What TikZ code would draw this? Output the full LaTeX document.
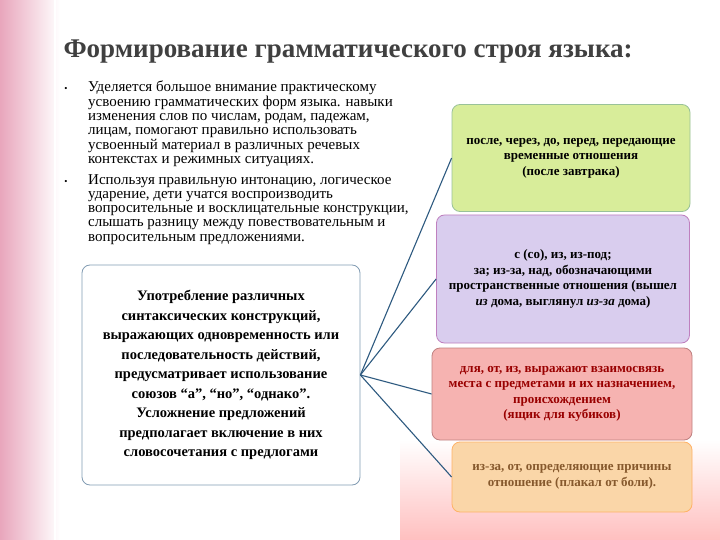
\documentclass[tikz,border=0pt]{standalone}
\usepackage{fontspec}
\setmainfont{Liberation Serif}
\usetikzlibrary{positioning}
\definecolor{conn}{HTML}{2E5A80}
\definecolor{grn}{HTML}{D8ED9A}
\definecolor{lav}{HTML}{D9CDEE}
\definecolor{pnk}{HTML}{F6B3B1}
\definecolor{org}{HTML}{FAD6A8}
\tikzset{
  rbox/.style={rounded corners=8pt, line width=0.8pt, align=center, font=\bfseries\fontsize{13}{15.5}\selectfont, inner sep=4pt},
  link/.style={draw=conn, line width=1.1pt},
  body/.style={font=\fontsize{15}{14.3}\selectfont, align=left, anchor=north west, inner sep=0pt}
}
\begin{document}
\begin{tikzpicture}[x=1pt,y=-1pt]
\useasboundingbox (0,0) rectangle (720,540);
\fill[white] (0,0) rectangle (720,540);
\shade[left color=purple!35!white, right color=white] (0,0) rectangle (60,540);
\shade[top color=white, bottom color=red!25!white] (400,440) rectangle (720,540);
\draw[white, line width=2pt] (55,0) -- (55,540);
\node[anchor=west, font=\bfseries\fontsize{27}{30}\selectfont, text=black!75] (title) at (60,52) {Формирование грамматического строя языка:};
\node[body] (b1) at (88,81) {Уделяется большое внимание практическому\\усвоению грамматических форм языка. навыки\\изменения слов по числам, родам, падежам,\\лицам, помогают правильно использовать\\усвоенный материал в различных речевых\\контекстах и режимных ситуациях.};
\node[body] (b2) at (88,174) {Используя правильную интонацию, логическое\\ударение, дети учатся воспроизводить\\вопросительные и восклицательные конструкции,\\слышать разницу между повествовательным и\\вопросительным предложениями.};
\node[font=\small] (d1) at (66,89) {•};
\node[font=\small] (d2) at (66,182) {•};
\node[rbox, fill=white, draw=conn!60, minimum width=278pt, minimum height=220pt, font=\bfseries\fontsize{14.5}{19.5}\selectfont] (L) at (221,375) {Употребление различных\\синтаксических конструкций,\\выражающих одновременность или\\последовательность действий,\\предусматривает использование\\союзов “а”, “но”, “однако”.\\Усложнение предложений\\предполагает включение в них\\словосочетания с предлогами};
\node[rbox, fill=grn, draw=green!40!black!40, minimum width=238pt, minimum height=107pt] (r1) at (571,158) {после, через, до, перед, передающие\\временные отношения\\(после завтрака)};
\node[rbox, fill=lav, draw=violet!50, minimum width=253pt, minimum height=128pt] (r2) at (563,279) {с (со), из, из-под;\\за; из-за, над, обозначающими\\пространственные отношения (вышел\\\textit{из} дома, выглянул \textit{из-за} дома)};
\node[rbox, fill=pnk, draw=red!50!black!50, text=red!60!black, minimum width=260pt, minimum height=92pt] (r3) at (562,394) {для, от, из, выражают взаимосвязь\\места с предметами и их назначением,\\происхождением\\(ящик для кубиков)};
\node[rbox, fill=org, draw=orange!60, text=brown!70!black, minimum width=240pt, minimum height=70pt] (r4) at (572,477) {из-за, от, определяющие причины\\отношение (плакал от боли).};
\coordinate (o) at (L.east);
\draw[link] (o) -- (r1.west);
\draw[link] (o) -- (r2.west);
\draw[link] (o) -- (r3.west);
\draw[link] (o) -- (r4.west);
\end{tikzpicture}
\end{document}
